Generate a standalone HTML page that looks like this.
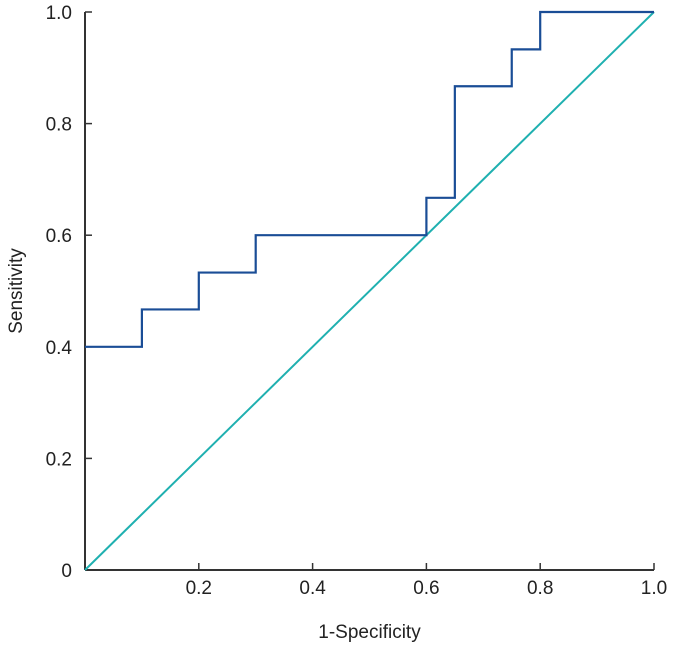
<!DOCTYPE html>
<html><head><meta charset="utf-8"><style>
body{margin:0;background:#fff;}
svg{display:block;font-family:"Liberation Sans",sans-serif;}
</style></head><body>
<svg id="chart" width="674" height="646">
<g id="axes"></g><g id="marks"></g>
</svg>
<script>
const xTicks=[0.2,0.4,0.6,0.8,1.0];
const xTickLabels=["0.2","0.4","0.6","0.8","1.0"];
const yTicks=[0,0.2,0.4,0.6,0.8,1.0];
const yTickLabels=["0","0.2","0.4","0.6","0.8","1.0"];
const rocFpr=[0,0.1,0.1,0.2,0.2,0.3,0.3,0.6,0.6,0.65,0.65,0.75,0.75,0.8,0.8,1.0];
const rocTpr=[0.4,0.4,0.467,0.467,0.533,0.533,0.6,0.6,0.667,0.667,0.867,0.867,0.933,0.933,1.0,1.0];
const refX=[0,1];
const refY=[0,1];
const NS="http://www.w3.org/2000/svg";
const X0=85,X1=654,Y0=570,Y1=12;
function sx(v){return X0+v*(X1-X0);}
function sy(v){return Y0-v*(Y0-Y1);}
function mk(tag,attrs,parent,text){const e=document.createElementNS(NS,tag);for(const k in attrs)e.setAttribute(k,attrs[k]);if(text!==undefined)e.textContent=text;parent.appendChild(e);return e;}
const axes=document.getElementById('axes'),marks=document.getElementById('marks');
let a=mk('line',{x1:X0,y1:Y0,x2:X1,y2:Y0,stroke:'#333','stroke-width':2},axes);


a=mk('line',{x1:X0,y1:Y0,x2:X0,y2:Y1,stroke:'#333','stroke-width':2},axes);


xTicks.forEach((v,i)=>{
 const t=mk('line',{x1:sx(v),y1:Y0,x2:sx(v),y2:Y0-7,stroke:'#333','stroke-width':1.5},axes);
 
 
 const l=mk('text',{x:sx(v),y:Y0+24,'text-anchor':'middle','font-size':19,fill:'#222'},axes,xTickLabels[i]);
 
 
});
yTicks.forEach((v,i)=>{
 if(v>0){const t=mk('line',{x1:X0,y1:sy(v),x2:X0+7,y2:sy(v),stroke:'#333','stroke-width':1.5},axes);
 
 }
 const l=mk('text',{x:X0-13,y:sy(v)+7,'text-anchor':'end','font-size':19,fill:'#222'},axes,yTickLabels[i]);
 
 
});
a=mk('text',{x:(X0+X1)/2,y:638,'text-anchor':'middle','font-size':19,fill:'#222'},axes,'1-Specificity');


a=mk('text',{x:0,y:0,'text-anchor':'middle','font-size':19,fill:'#222',transform:'translate(22,291) rotate(-90)'},axes,'Sensitivity');


let p=mk('polyline',{points:refX.map((v,i)=>sx(v)+','+sy(refY[i])).join(' '),fill:'none',stroke:'#1fb0b0','stroke-width':2},marks);


p=mk('polyline',{points:rocFpr.map((v,i)=>sx(v)+','+sy(rocTpr[i])).join(' '),fill:'none',stroke:'#1a4d96','stroke-width':2.2},marks);


</script>
</body></html>
